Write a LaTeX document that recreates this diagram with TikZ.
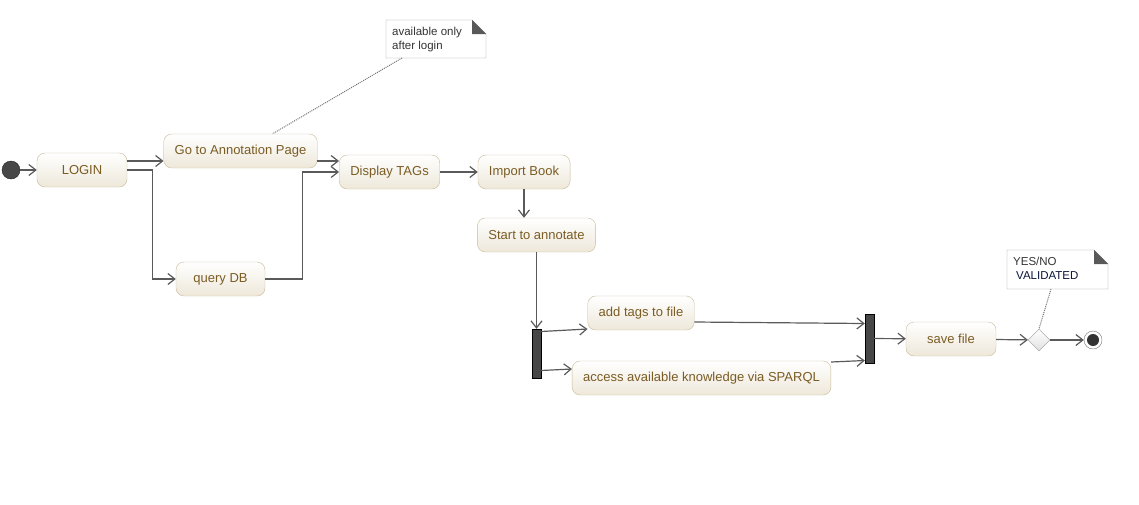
\documentclass[tikz,border=0pt]{standalone}
\usepackage{fontspec}
\setmainfont{Liberation Sans}
\usepackage{tikz}
\usetikzlibrary{arrows.meta,positioning,shapes.geometric,calc}
\definecolor{actfill}{RGB}{238,232,218}
\definecolor{actdraw}{RGB}{200,186,152}
\definecolor{acttext}{RGB}{122,92,36}
\definecolor{lnk}{RGB}{90,90,90}
\definecolor{navy}{RGB}{10,20,60}
\tikzset{
  act/.style={draw=actdraw,rounded corners=8pt,top color=white,bottom color=actfill,
    text=acttext,minimum height=34pt,inner xsep=11pt,font=\fontsize{13}{15}\selectfont},
  bar/.style={draw=black,fill=black!72,minimum width=9pt,minimum height=49pt,inner sep=0pt},
  note/.style={align=left,inner xsep=6pt,inner ysep=7pt,text=black!80,
    font=\fontsize{11.5}{14}\selectfont,anchor=north west},
  fl/.style={-{Straight Barb[length=7pt,width=11pt]},draw=lnk,line width=1.2pt},
  lnkdot/.style={draw=black!55,line width=1pt,dash pattern=on 1pt off 1pt},
}

\begin{document}
\begin{tikzpicture}[x=1pt,y=-1pt]
  \useasboundingbox (0,0) rectangle (1139,504);
  % actions
  \node[circle,fill=black!72,draw=black!85,minimum size=18pt,inner sep=0pt] (start0) at (11,170) {};
  \node[act,minimum width=90pt] (login) at (82,170) {LOGIN};
  \node[act] (goto) at (240.5,151) {Go to Annotation Page};
  \node[act,minimum width=89pt] (query) at (220.5,279) {query DB};
  \node[act] (disp) at (389.5,172) {Display TAGs};
  \node[act] (import) at (524,172) {Import Book};
  \node[act] (annot) at (536.5,235) {Start to annotate};
  \node[bar] (fork) at (536.5,353.5) {};
  \node[act] (tags) at (641,313) {add tags to file};
  \node[act] (sparql) at (701.5,378) {access available knowledge via SPARQL};
  \node[bar] (join) at (869.5,338.5) {};
  \node[act,minimum width=90pt] (save) at (951,339) {save file};
  \node[diamond,draw=black!40,top color=white,bottom color=black!12,minimum size=22pt,inner sep=0pt] (dec) at (1039,340) {};
  \node[circle,draw=black!55,fill=white,minimum size=18pt,inner sep=0pt] (fin) at (1093,340) {};
  \fill[black!80] (fin) circle (6pt);
  % notes
  \node[note] (n1) at (386,20) {available only\\after login};
  \node[note] (n2) at (1007,250) {YES/NO\\\hspace{3pt}\textcolor{navy}{VALIDATED}};
  \foreach \n/\w/\h in {n1/100/38,n2/101/39}{
    \draw[black!40] (\n.north west) -- +(\w pt-14pt,0) -- +(\w pt,-14pt) -- +(\w pt,-\h pt) -- +(0,-\h pt) -- cycle;
    \fill[black!65] ($(\n.north west)+(\w pt-14pt,0)$) -- +(0,-14pt) -- +(14pt,-14pt) -- cycle;
  }
  \draw[lnkdot] ($(n1.north west)+(16pt,-38pt)$) -- ([xshift=32pt]goto.north);
  \draw[lnkdot] ($(n2.north west)+(44pt,-39pt)$) -- (dec.north);
  % flows
  \draw[fl] (start0) -- (login);
  \draw[fl] ([yshift=9pt]login.east) -- ([yshift=9pt]login.east -| goto.west);
  \draw[fl] (login.east) -- ++(25,0) |- (query.west);
  \draw[fl] ([yshift=-10pt]goto.east) -- ([yshift=-10pt]goto.east -| disp.west);
  \draw[fl] (query.east) -- ++(37,0) |- (disp.west);
  \draw[fl] (disp) -- (import);
  \draw[fl] (import) -- (import |- annot.north);
  \draw[fl] (annot) -- (annot |- fork.north);
  \draw[fl] ([yshift=22pt]fork.east) -- ([yshift=-16pt]tags.west);
  \draw[fl] ([yshift=-17pt]fork.east) -- ([yshift=9pt]sparql.west);
  \draw[fl] ([yshift=-9pt]tags.east) -- ([yshift=15pt]join.west);
  \draw[fl] ([yshift=16pt]sparql.east) -- ([yshift=-22pt]join.west);
  \draw[fl] (join) -- (save);
  \draw[fl] (save) -- (dec);
  \draw[fl] (dec) -- (fin);
\end{tikzpicture}
\end{document}
